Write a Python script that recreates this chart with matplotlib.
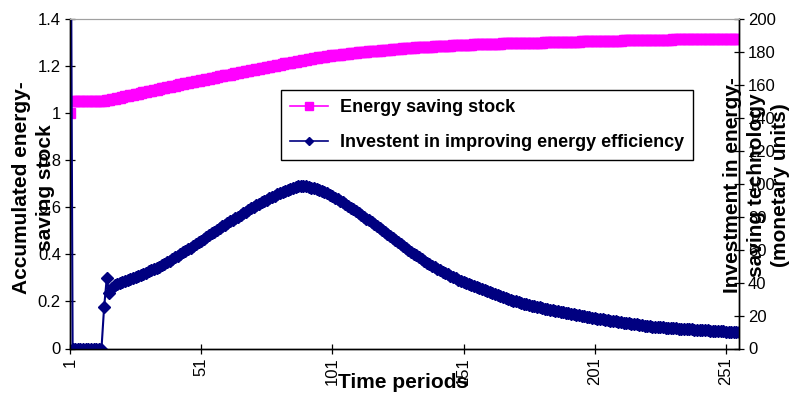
import matplotlib
matplotlib.use("Agg")
import matplotlib.pyplot as plt
from matplotlib.lines import Line2D

plt.rcParams['font.family'] = ['Liberation Sans', 'DejaVu Sans']

# Energy saving stock (left axis), one value per period
stock = [
    1.000,
    1.052, 1.052, 1.052, 1.052, 1.052, 1.052, 1.052, 1.052, 1.052, 1.052, 1.052, 1.052, 1.052,
    1.054, 1.057, 1.059, 1.062, 1.064, 1.066, 1.069, 1.071, 1.074, 1.076,
    1.078, 1.081, 1.083, 1.086, 1.088, 1.090, 1.093, 1.095, 1.098, 1.100,
    1.102, 1.105, 1.107, 1.110, 1.112, 1.114, 1.117, 1.119, 1.122, 1.124,
    1.126, 1.129, 1.131, 1.134, 1.136, 1.138,
    1.140, 1.142, 1.145, 1.147, 1.149, 1.151, 1.153, 1.156, 1.158, 1.160,
    1.162, 1.164, 1.167, 1.169, 1.171, 1.173, 1.175, 1.178, 1.180, 1.182,
    1.184, 1.186, 1.189, 1.191, 1.193, 1.195, 1.197, 1.200, 1.202, 1.204,
    1.206, 1.208, 1.211, 1.213, 1.215, 1.217, 1.219, 1.221, 1.223,
    1.225, 1.227, 1.229, 1.231, 1.233, 1.235, 1.237, 1.238, 1.240, 1.242,
    1.243, 1.245, 1.246, 1.248, 1.249, 1.251, 1.252, 1.253, 1.255, 1.256,
    1.257, 1.258, 1.259, 1.260, 1.261, 1.262, 1.263, 1.264, 1.265, 1.266,
    1.267, 1.268, 1.269, 1.270, 1.271, 1.272, 1.273, 1.274,
    1.275, 1.276, 1.276, 1.277, 1.278, 1.279, 1.279, 1.280, 1.281, 1.282,
    1.282, 1.283, 1.284, 1.284, 1.285, 1.286, 1.286, 1.287, 1.287, 1.288,
    1.288, 1.289, 1.289, 1.290, 1.290, 1.291, 1.291, 1.292, 1.292, 1.292,
    1.293, 1.293, 1.294, 1.294, 1.294, 1.295, 1.295, 1.295,
    1.296, 1.296, 1.296, 1.297, 1.297, 1.297, 1.298, 1.298, 1.298, 1.299,
    1.299, 1.299, 1.300, 1.300, 1.300, 1.300, 1.301, 1.301, 1.301, 1.302,
    1.302, 1.302, 1.302, 1.303, 1.303, 1.303, 1.304, 1.304, 1.304, 1.304,
    1.305, 1.305, 1.305, 1.305, 1.306, 1.306, 1.306, 1.306, 1.307, 1.307,
    1.307, 1.307, 1.308, 1.308, 1.308, 1.308, 1.309, 1.309, 1.309, 1.309,
    1.310, 1.310, 1.310, 1.310, 1.310, 1.311, 1.311, 1.311, 1.311, 1.311,
    1.312, 1.312, 1.312, 1.312, 1.312, 1.313, 1.313, 1.313, 1.313, 1.313,
    1.314, 1.314, 1.314, 1.314, 1.314, 1.314, 1.315, 1.315, 1.315, 1.315,
    1.315, 1.315, 1.316, 1.316, 1.316, 1.316, 1.316, 1.316, 1.317, 1.317,
    1.317,
]

# Investment in energy-saving technology (right axis), one value per period
invest = [
    400.0,
    0, 0, 0, 0, 0, 0, 0, 0, 0, 0, 0, 0,
    25.0, 42.5, 33.5, 37.0, 38.5, 39.3, 40.0,
    40.6, 41.2, 41.8, 42.4, 43.0, 43.6, 44.2, 44.8, 45.4, 46.1,
    46.8, 47.5, 48.2, 48.9, 49.6,
    50.5, 51.4, 52.3, 53.3, 54.3, 55.3, 56.3, 57.3, 58.3, 59.3,
    60.3, 61.3, 62.3, 63.4, 64.5,
    65.5, 66.6, 67.7, 68.8, 69.9, 71.0, 72.1, 73.1, 74.1, 75.1,
    76.1, 77.1, 78.1, 79.1, 80.1, 81.0,
    82.0, 83.0, 84.0, 85.0, 86.0, 86.9, 87.8, 88.7, 89.6, 90.4,
    91.2, 92.0, 92.8, 93.6,
    94.4, 95.1, 95.8, 96.4, 97.0, 97.6, 98.1, 98.5, 98.7, 98.6,
    98.4, 98.1, 97.7, 97.2, 96.7, 96.1, 95.5, 94.8, 94.1, 93.3,
    92.5, 91.6, 90.7, 89.7, 88.7, 87.7, 86.6, 85.5, 84.4, 83.3,
    82.2, 81.1, 80.0, 78.9, 77.8, 76.7, 75.6, 74.4, 73.2, 72.0,
    70.8, 69.6, 68.4,
    67.2, 66.0, 64.8, 63.6, 62.4, 61.2, 60.0, 58.8, 57.6, 56.5,
    55.4, 54.3, 53.2,
    52.2, 51.2, 50.3, 49.4, 48.5, 47.6, 46.7, 45.8, 45.0, 44.2,
    43.4, 42.6, 41.8, 41.0,
    40.3, 39.6, 38.9, 38.3, 37.7, 37.1, 36.5, 35.9, 35.3, 34.7, 34.1,
    33.5, 32.9, 32.3, 31.7, 31.1, 30.6, 30.1, 29.6, 29.1, 28.6, 28.1,
    27.7, 27.3, 26.9, 26.5, 26.1, 25.7, 25.3, 24.9, 24.5, 24.1,
    23.8, 23.5, 23.2, 22.9, 22.6, 22.3, 22.0, 21.7, 21.4, 21.1,
    20.8, 20.5, 20.2, 19.9, 19.6, 19.3, 19.0, 18.8,
    18.5, 18.2, 18.0, 17.7, 17.4, 17.2, 16.9, 16.7, 16.4, 16.2,
    15.9, 15.7, 15.5, 15.2, 15.0, 14.8, 14.6, 14.3, 14.1, 13.9,
    13.7, 13.5, 13.3,
    13.2, 13.1, 12.9, 12.8, 12.7, 12.6, 12.4, 12.3, 12.2, 12.1,
    12.0, 11.9, 11.8, 11.7, 11.6, 11.5, 11.4, 11.3, 11.2, 11.1,
    11.0, 10.9, 10.8, 10.7, 10.6, 10.5, 10.4, 10.3, 10.2, 10.2,
    10.1, 10.0, 9.9,
]

x_ticks = [1, 51, 101, 151, 201, 251]
left_ticks = [0, 0.2, 0.4, 0.6, 0.8, 1.0, 1.2, 1.4]
left_labels = ["0", "0.2", "0.4", "0.6", "0.8", "1", "1.2", "1.4"]
right_ticks = [0, 20, 40, 60, 80, 100, 120, 140, 160, 180, 200]

series_labels = ["Energy saving stock", "Investent in improving energy efficiency"]
x_title = "Time periods"
left_title = "Accumulated energy-\nsaving stock"
right_title = "Investment in energy-\nsaving technology\n(monetary units)"

periods_stock = list(range(1, len(stock) + 1))
periods_inv = list(range(1, len(invest) + 1))

PINK = "#FF00FF"
NAVY = "#000080"
W, H = 791, 399

fig = plt.figure(figsize=(W / 100, H / 100), dpi=100)
ax = fig.add_axes([70 / W, 1 - 348.5 / H, (739 - 70) / W, (348.5 - 19) / H])
ax2 = ax.twinx()

ax.plot(periods_stock, stock, color=PINK, lw=1.5, marker="s", ms=7.0,
        mec=PINK, mfc=PINK)
ax2.plot(periods_inv, invest, color=NAVY, lw=1.5, marker="D", ms=6.0,
         mec=NAVY, mfc=NAVY)

n = max(len(stock), len(invest))
ax.set_xlim(1, n)
ax.set_ylim(0, 1.4)
ax2.set_ylim(0, 200)

ax.set_xticks(x_ticks)
ax.set_xticklabels([str(t) for t in x_ticks], rotation=90, fontsize=12)
ax.set_yticks(left_ticks)
ax.set_yticklabels(left_labels, fontsize=12)
ax2.set_yticks(right_ticks)
ax2.set_yticklabels([str(t) for t in right_ticks], fontsize=12)

for a in (ax, ax2):
    a.tick_params(axis="both", direction="inout", length=7, width=0.9, color="black", pad=3)
    a.spines["top"].set_color("#A0A0A0")
    for s in ("left", "right", "bottom"):
        a.spines[s].set_color("black")
        a.spines[s].set_linewidth(1.0)

fig.text(403 / W, 1 - 383 / H, x_title, fontsize=15, fontweight="bold",
         ha="center", va="center")
fig.text(33.5 / W, 1 - 188 / H, left_title, fontsize=15, fontweight="bold",
         rotation=90, ha="center", va="center", multialignment="center",
         linespacing=1.3)
fig.text(756.5 / W, 1 - 185 / H, right_title, fontsize=15, fontweight="bold",
         rotation=90, ha="center", va="center", multialignment="center",
         linespacing=1.3)

handles = [
    Line2D([], [], color=PINK, lw=1.2, marker="s", ms=5.2, mfc=PINK, mec=PINK),
    Line2D([], [], color=NAVY, lw=1.2, marker="D", ms=4.0, mfc=NAVY, mec=NAVY),
]
leg = ax2.legend(handles, series_labels, loc="upper left",
                 bbox_to_anchor=((281 - 70) / 669, 1 - (90 - 19) / 329.5),
                 borderaxespad=0,
                 prop={"weight": "bold", "size": 13}, frameon=True, fancybox=False,
                 edgecolor="black", framealpha=1, handlelength=2.1, handletextpad=0.65,
                 borderpad=0.5, labelspacing=1.0)
leg.get_frame().set_linewidth(1.0)

fig.savefig("out.png", dpi=100)
